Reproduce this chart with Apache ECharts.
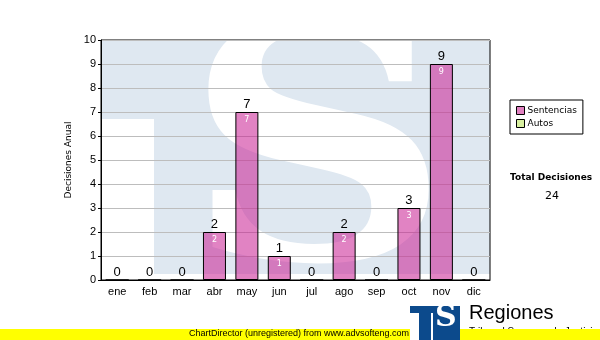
<!DOCTYPE html>
<html><head><meta charset="utf-8">
<script src="https://cdn.jsdelivr.net/npm/echarts@6/dist/echarts.min.js"></script>
<style>html,body{margin:0;padding:0;background:#fff}#c{width:600px;height:340px}</style>
</head><body><div id="c"></div>
<script>
const months = ['ene','feb','mar','abr','may','jun','jul','ago','sep','oct','nov','dic'];
const sentencias = [0,0,0,2,7,1,0,2,0,3,9,0];
const autos = [0,0,0,0,0,0,0,0,0,0,0,0];
const yTicks = [0,1,2,3,4,5,6,7,8,9,10];
const totalLabel = 'Total Decisiones';
const totalValue = sentencias.reduce((a,b)=>a+b,0) + autos.reduce((a,b)=>a+b,0);

const chart = echarts.init(document.getElementById('c'), null, {renderer:'canvas'});
const WM = '#dfe8f1';
chart.setOption({
  animation:false,
  grid:{left:101,right:110,top:40,bottom:60,show:true,borderColor:'#000',borderWidth:1,backgroundColor:'transparent'},
  xAxis:{type:'category',data:months,boundaryGap:true,
    axisLine:{lineStyle:{color:'#000',width:1}},
    axisTick:{alignWithLabel:true,length:4,lineStyle:{color:'#000'}},
    axisLabel:{color:'#000',fontFamily:'Liberation Sans',fontSize:11,margin:6}},
  yAxis:{type:'value',min:yTicks[0],max:yTicks[yTicks.length-1],interval:1,
    name:'Decisiones Anual',nameLocation:'middle',nameGap:18,
    nameTextStyle:{color:'#000',fontFamily:'DejaVu Sans',fontSize:9},
    axisLine:{show:true,lineStyle:{color:'#000'}},
    axisTick:{show:true,length:3,lineStyle:{color:'#000'}},
    splitLine:{lineStyle:{color:'#bdbdbd',width:1}},
    axisLabel:{color:'#000',fontFamily:'Liberation Sans',fontSize:11,margin:5}},
  legend:{orient:'vertical',left:510,top:100,
    backgroundColor:'#fff',borderColor:'#000',borderWidth:1,padding:[6,6,6,6],
    itemWidth:8,itemHeight:8,itemGap:4,icon:'rect',
    textStyle:{fontFamily:'DejaVu Sans',fontSize:9,color:'#000',padding:[0,0,0,-2]},
    data:[{name:'Sentencias',itemStyle:{color:'#e080c0',borderColor:'#000',borderWidth:1}},
          {name:'Autos',itemStyle:{color:'#d8f0a0',borderColor:'#000',borderWidth:1}}]},
  graphic:[
    {type:'rect',z:-10,silent:true,shape:{x:101,y:40,width:389,height:240},style:{fill:WM}},
    {type:'rect',z:-9,silent:true,shape:{x:101,y:119,width:53,height:161},style:{fill:'#fff'}},
    {type:'rect',z:-9,silent:true,shape:{x:101,y:274,width:389,height:6},style:{fill:'#fff'}},
    {type:'text',z:-8,silent:true,left:184,top:8,scaleX:1.12,
      style:{text:'S',fill:'#fff',font:'bold 330px "DejaVu Serif"'}},
    {type:'rect',z:-7,silent:true,shape:{x:490,y:20,width:20,height:265},style:{fill:'#fff'}},
    {type:'rect',z:-7,silent:true,shape:{x:101,y:20,width:389,height:20},style:{fill:'#fff'}},
    {type:'text',left:510,top:173,style:{text:totalLabel,fill:'#000',font:'bold 9px "DejaVu Sans"'}},
    {type:'text',left:545,top:191,style:{text:String(totalValue),fill:'#000',font:'11px "DejaVu Sans"'}},
    {type:'text',z:1,left:469,top:327,style:{text:'Tribunal Supremo de Justicia',fill:'#000',font:'10px "Liberation Sans"'}},
    {type:'rect',z:10,shape:{x:0,y:329,width:600,height:11},style:{fill:'#ffff00'}},
    {type:'text',z:11,left:189,top:329,style:{text:'ChartDirector (unregistered) from www.advsofteng.com',fill:'#000',font:'9px "Liberation Sans"'}},
    {type:'rect',z:12,shape:{x:410,y:306,width:50,height:34},style:{fill:'#0c4a8c'}},
    {type:'rect',z:13,shape:{x:410,y:313,width:9,height:27},style:{fill:'#fff'}},
    {type:'rect',z:13,shape:{x:431,y:313,width:2,height:27},style:{fill:'#fff'}},
    {type:'text',z:14,left:435,top:303,style:{text:'S',fill:'#fff',font:'bold 30px "DejaVu Serif"'}},
    {type:'text',z:12,left:469,top:303,style:{text:'Regiones',fill:'#000',font:'20px "Liberation Sans"'}}
  ],
  series:[
    {name:'Sentencias',type:'bar',stack:'t',data:sentencias,barWidth:23,
      itemStyle:{color:'rgba(200,30,145,0.55)',borderColor:'#000',borderWidth:1},
      label:{show:true,position:'insideTop',distance:4,color:'#fff',fontFamily:'DejaVu Sans',fontSize:8,
        formatter:p=>p.value>0?String(p.value):''}},
    {name:'Autos',type:'bar',stack:'t',data:autos,barWidth:23,
      itemStyle:{color:'#d8f0a0',borderWidth:0},
      label:{show:true,position:'top',distance:1,color:'#000',fontFamily:'Liberation Sans',fontSize:13,
        formatter:p=>String(sentencias[p.dataIndex]+autos[p.dataIndex])}}
  ]
});
</script></body></html>
